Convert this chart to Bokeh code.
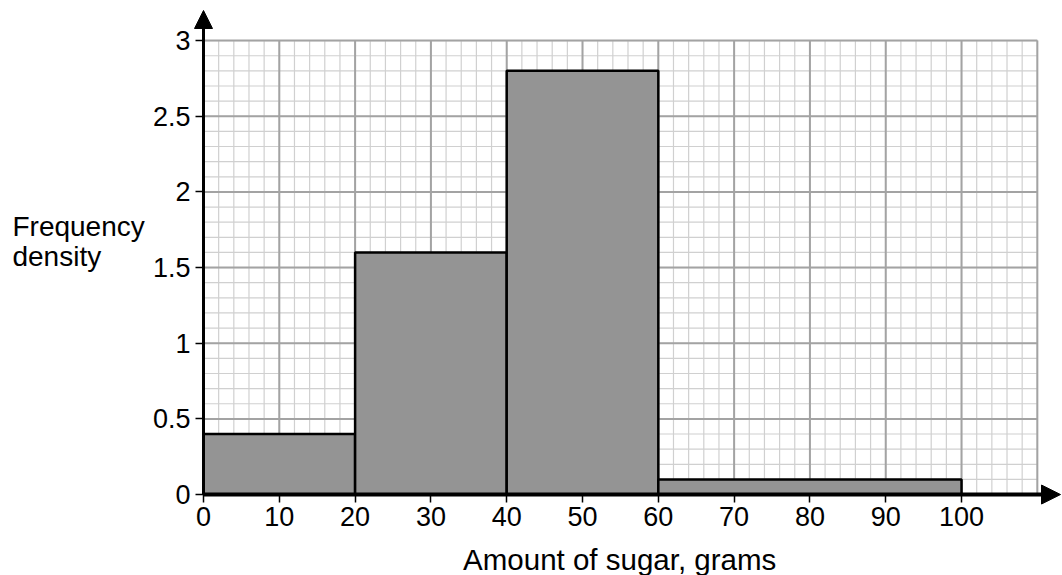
import numpy as np
from bokeh.plotting import figure
from bokeh.models import FixedTicker, Arrow, NormalHead, Label, Range1d
from bokeh.embed import file_html
from bokeh.resources import INLINE

# data
bin_left = [0, 20, 40, 60]
bin_right = [20, 40, 60, 100]
freq_density = [0.4, 1.6, 2.8, 0.1]
x_ticks = [0, 10, 20, 30, 40, 50, 60, 70, 80, 90, 100]
y_ticks = [0, 0.5, 1, 1.5, 2, 2.5, 3]
y_tick_labels = ["0", "0.5", "1", "1.5", "2", "2.5", "3"]
x_label = "Amount of sugar, grams"
y_label_lines = ["Frequency", "density"]

FONT = "Liberation Sans"

p = figure(width=1062, height=575, output_backend="svg", toolbar_location=None,
           x_range=Range1d(-26.78, 113.32), y_range=Range1d(-0.535, 3.265),
           min_border=0)
p.outline_line_color = None
p.xgrid.visible = False
p.ygrid.visible = False

# graph paper grid (styling)
gx_max, gy_max = 110, 3
minor_x = np.arange(0, gx_max + 0.001, 2)
minor_y = np.arange(0, gy_max + 0.0001, 0.1)
major_x = np.arange(0, gx_max + 0.001, 10)
major_y = np.arange(0, gy_max + 0.0001, 0.5)
p.segment(x0=minor_x, y0=0, x1=minor_x, y1=gy_max, line_color="#d0d0d0", line_width=1.2)
p.segment(x0=0, y0=minor_y, x1=gx_max, y1=minor_y, line_color="#d0d0d0", line_width=1.2)
p.segment(x0=major_x, y0=0, x1=major_x, y1=gy_max, line_color="#a3a3a3", line_width=2)
p.segment(x0=0, y0=major_y, x1=gx_max, y1=major_y, line_color="#a3a3a3", line_width=2)

# histogram bars
p.quad(left=bin_left, right=bin_right, bottom=0, top=freq_density,
       fill_color="#949494", line_color="black", line_width=2.5)

# axes (fixed at the data origin)
for ax in (p.xaxis[0], p.yaxis[0]):
    ax.fixed_location = 0
    ax.axis_line_color = None
    ax.major_tick_out = 8
    ax.major_tick_in = 0
    ax.major_tick_line_color = "black"
    ax.major_tick_line_width = 1.5
    ax.minor_tick_line_color = None
    ax.major_label_text_font = FONT
    ax.major_label_text_font_size = "27px"
    ax.major_label_text_color = "black"
p.xaxis.ticker = FixedTicker(ticks=x_ticks)
p.yaxis.ticker = FixedTicker(ticks=y_ticks)
p.yaxis.major_label_overrides = {t: l for t, l in zip(y_ticks, y_tick_labels)}
p.xaxis.major_label_standoff = 4
p.yaxis.major_label_standoff = 5

# axis lines with arrow heads
p.add_layout(Arrow(end=NormalHead(size=19, fill_color="black", line_color="black"),
                   x_start=0, y_start=0, x_end=113.06, y_end=0,
                   line_color="black", line_width=4))
p.add_layout(Arrow(end=NormalHead(size=18, fill_color="black", line_color="black"),
                   x_start=0, y_start=0, x_end=0, y_end=3.199,
                   line_color="black", line_width=3))

# titles
p.add_layout(Label(x=54.9, y=-0.432, text=x_label, text_align="center",
                   text_baseline="alphabetic", text_font=FONT,
                   text_font_size="29.5px", text_color="black"))
p.add_layout(Label(x=-25.2, y=1.772, text=y_label_lines[0], text_align="left",
                   text_baseline="alphabetic", text_font=FONT,
                   text_font_size="28px", text_color="black"))
p.add_layout(Label(x=-25.2, y=1.574, text=y_label_lines[1], text_align="left",
                   text_baseline="alphabetic", text_font=FONT,
                   text_font_size="28px", text_color="black"))

open("out.html", "w").write(file_html(p, INLINE))
